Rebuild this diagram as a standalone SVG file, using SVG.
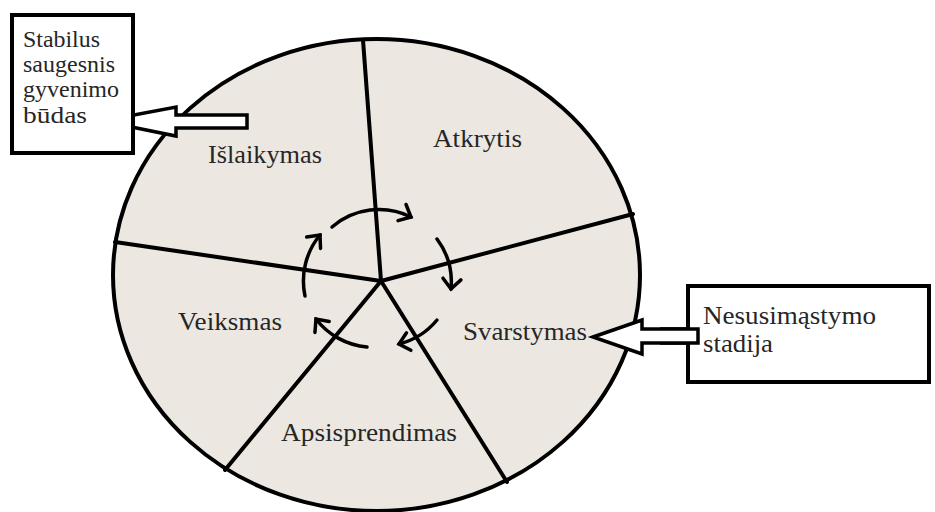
<svg xmlns="http://www.w3.org/2000/svg" width="935" height="512" viewBox="0 0 935 512">
  <style>
    .lbl { font-family: "Liberation Serif", "DejaVu Serif", "Noto Serif", FreeSerif, "Nimbus Roman", Tinos, Times, serif; font-size: 26px; fill: #262626; }
    .small { font-size: 23px; }
    .spoke { stroke: #000; stroke-width: 4; stroke-linecap: round; fill: none; }
    .cyc { stroke: #000; stroke-width: 3.5; fill: none; stroke-linecap: round; }
    .box { fill: #fff; stroke: #000; stroke-width: 4; }
    .block { fill: #fff; stroke: #000; stroke-width: 3.5; stroke-linejoin: miter; }
  </style>
  <defs>
    <marker id="chev" markerUnits="userSpaceOnUse" markerWidth="30" markerHeight="30" viewBox="-15 -15 30 30" refX="0" refY="0" orient="auto" overflow="visible">
      <path d="M-10,-9 L0,0 L-10,9" fill="none" stroke="#000" stroke-width="3.5" stroke-linecap="round" stroke-linejoin="miter"/>
    </marker>
  </defs>
  <rect width="935" height="512" fill="#fff"/>

  <!-- wheel of stages -->
  <g id="wheel">
    <ellipse cx="376.5" cy="275" rx="263.5" ry="236" fill="#ece7e1" stroke="#000" stroke-width="4"/>
    <line class="spoke" x1="381" y1="281" x2="363" y2="40"/>
    <line class="spoke" x1="381" y1="281" x2="115" y2="242"/>
    <line class="spoke" x1="381" y1="281" x2="633" y2="214"/>
    <line class="spoke" x1="381" y1="281" x2="225" y2="470"/>
    <line class="spoke" x1="381" y1="281" x2="507" y2="482"/>
  </g>

  <g id="stage-atkrytis"><text class="lbl" x="433" y="147" textLength="89" lengthAdjust="spacingAndGlyphs">Atkrytis</text></g>
  <g id="stage-islaikymas"><text class="lbl" x="208" y="163" textLength="114" lengthAdjust="spacingAndGlyphs">Išlaikymas</text></g>
  <g id="stage-veiksmas"><text class="lbl" x="178" y="330" textLength="104" lengthAdjust="spacingAndGlyphs">Veiksmas</text></g>
  <g id="stage-svarstymas"><text class="lbl" x="463" y="340" textLength="124" lengthAdjust="spacingAndGlyphs">Svarstymas</text></g>
  <g id="stage-apsisprendimas"><text class="lbl" x="281" y="441" textLength="176" lengthAdjust="spacingAndGlyphs">Apsisprendimas</text></g>

  <!-- cycle arrows around the hub -->
  <g id="connectors">
    <path class="cyc" d="M332,227 A72,72 0 0 1 411,217" marker-end="url(#chev)"/>
    <path class="cyc" d="M437,239 A72,72 0 0 1 451,289" marker-end="url(#chev)"/>
    <path class="cyc" d="M437,320 A72,72 0 0 1 399,344" marker-end="url(#chev)"/>
    <path class="cyc" d="M367,347 A72,72 0 0 1 316,319" marker-end="url(#chev)"/>
    <path class="cyc" d="M305,296 A72,72 0 0 1 320,235" marker-end="url(#chev)"/>
    <!-- block arrows to the callouts -->
    <polygon class="block" points="102,121 176,107 176,115 247,115 247,128 176,128 176,136"/>
    <polygon class="block" points="593,337 642,320 642,329 698,329 698,343 642,343 642,354"/>
  </g>

  <g id="callout-stabilus">
    <rect class="box" x="12" y="15" width="121" height="138"/>
    <text class="lbl small" x="23" y="47" textLength="77" lengthAdjust="spacingAndGlyphs">Stabilus</text>
    <text class="lbl small" x="23" y="72" textLength="92" lengthAdjust="spacingAndGlyphs">saugesnis</text>
    <text class="lbl small" x="23" y="97" textLength="96" lengthAdjust="spacingAndGlyphs">gyvenimo</text>
    <text class="lbl small" x="23" y="123" textLength="64" lengthAdjust="spacingAndGlyphs">būdas</text>
  </g>

  <g id="callout-nesusimastymo">
    <rect class="box" x="688" y="286" width="241" height="96"/>
    <text class="lbl" x="703" y="324" textLength="173" lengthAdjust="spacingAndGlyphs">Nesusimąstymo</text>
    <text class="lbl" x="703" y="352" textLength="70" lengthAdjust="spacingAndGlyphs">stadija</text>
  </g>

  <!-- right arrow shaft runs over the box edge -->
  <polygon points="660,329 698,329 698,343 660,343" fill="#fff"/>
  <polyline points="660,329 698,329 698,343 660,343" fill="none" stroke="#000" stroke-width="3.5"/>
</svg>
